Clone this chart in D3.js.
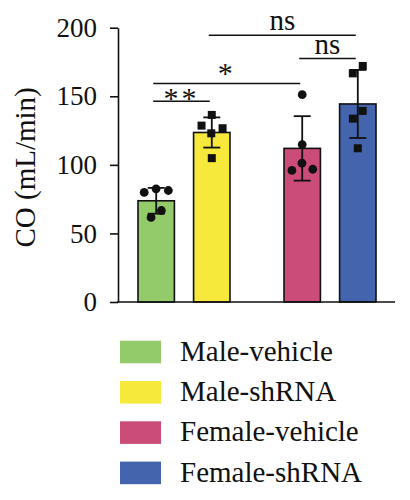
<!DOCTYPE html>
<html>
<head>
<meta charset="utf-8">
<script src="https://cdn.jsdelivr.net/npm/d3@7"></script>
<style>
  body { margin: 0; background: #fff; }
  svg { display: block; }
  text { font-family: "Liberation Serif", "Times New Roman", serif; fill: #111; }
</style>
</head>
<body>
<svg id="chart" width="410" height="500"></svg>
<script>
// groups, in the order they are drawn and listed in the legend
const groups = ["Male-vehicle", "Male-shRNA", "Female-vehicle", "Female-shRNA"];
const sexes = ["Male", "Male", "Female", "Female"];
const treatments = ["vehicle", "shRNA", "vehicle", "shRNA"];
const colors = ["#93cb6b", "#f6e93b", "#cc4c79", "#4464ad"];
const markers = ["circle", "square", "circle", "square"];

// bar heights (mean) and error bars (SD), mL/min
const means = [73.8, 123.6, 112.0, 144.4];
const sds = [9.4, 11.0, 23.5, 24.8];

// individual animals
const points = [
	[82.5, 81.3, 79.9, 66.7, 61.7],
	[128.6, 136.4, 126.7, 123.0, 104.9],
	[151.2, 114.8, 101.2, 96.8, 95.9],
	[172.1, 166.7, 139.3, 133.7, 112.1],
];

// significance brackets: group indices, label, height in mL/min
const comparisons = [
	{ a: 0, b: 1, label: "**", level: 146.4 },
	{ a: 0, b: 2, label: "*", level: 159.3 },
	{ a: 2, b: 3, label: "ns", level: 177.5 },
	{ a: 1, b: 3, label: "ns", level: 194.5 },
];

const yTicks = [0, 50, 100, 150, 200];
const yTitle = "CO (mL/min)";

const svg = d3.select("#chart");

const plot = { left: 118, right: 395, top: 27.7, bottom: 302 };

const y = d3.scaleLinear().domain([0, 200]).range([plot.bottom, plot.top]);

// sex groups outside, treatment inside
const xOuter = d3.scaleBand().domain(["Male", "Female"]).range([138, 376]).paddingInner(0.37).paddingOuter(0);
const xInner = d3.scaleBand().domain(["vehicle", "shRNA"]).range([0, xOuter.bandwidth()]).paddingInner(0.345);

const barX = (i) => xOuter(sexes[i]) + xInner(treatments[i]);
const barC = (i) => barX(i) + xInner.bandwidth() / 2;

// bars
svg.append("g")
	.selectAll("rect")
	.data(groups)
	.join("rect")
	.attr("x", (d, i) => barX(i))
	.attr("y", (d, i) => y(means[i]))
	.attr("width", xInner.bandwidth())
	.attr("height", (d, i) => y(0) - y(means[i]))
	.attr("fill", (d, i) => colors[i])
	.attr("stroke", "#111")
	.attr("stroke-width", 1.6);

// error bars
const eb = svg.append("g").attr("stroke", "#111").attr("stroke-width", 1.8);
groups.forEach((g, i) => {
	const cx = barC(i);
	const hi = y(means[i] + sds[i]);
	const lo = y(means[i] - sds[i]);
	eb.append("line").attr("x1", cx).attr("x2", cx).attr("y1", hi).attr("y2", lo);
	eb.append("line").attr("x1", cx - 8.5).attr("x2", cx + 8.5).attr("y1", hi).attr("y2", hi);
	eb.append("line").attr("x1", cx - 8.5).attr("x2", cx + 8.5).attr("y1", lo).attr("y2", lo);
});

// dots, spread sideways like a beeswarm so they don't overlap
const dots = [];
points.forEach((vals, i) => {
	vals.forEach((v) => dots.push({ g: i, v, cx: barC(i), fy: y(v) }));
});
const sim = d3
	.forceSimulation(dots)
	.force("x", d3.forceX((d) => d.cx).strength(0.2))
	.force("collide", d3.forceCollide(6.2))
	.stop();
dots.forEach((d) => { d.x = d.cx; d.y = d.fy; });
// small deterministic nudge so identical x starts can separate
dots.forEach((d, k) => { d.x += (k % 2 ? 0.5 : -0.5); });
for (let t = 0; t < 300; t++) sim.tick();

const dotG = svg.append("g").attr("fill", "#111");
dots.forEach((d) => {
	if (markers[d.g] === "circle") {
		dotG.append("circle").attr("cx", d.x).attr("cy", d.fy).attr("r", 4.4);
	} else {
		dotG.append("rect").attr("x", d.x - 4).attr("y", d.fy - 4).attr("width", 8).attr("height", 8);
	}
});

// axes
const yAxis = d3.axisLeft(y).tickValues(yTicks).tickSize(8).tickSizeOuter(0).tickPadding(13);
const yg = svg.append("g").attr("transform", `translate(${plot.left},0)`).call(yAxis);
yg.select(".domain").attr("stroke", "#111").attr("stroke-width", 1.6);
yg.selectAll(".tick line").attr("stroke", "#111").attr("stroke-width", 1.6);
yg.selectAll(".tick text")
	.attr("font-family", "Liberation Serif, serif")
	.attr("font-size", 27)
	.attr("fill", "#111");

svg.append("line")
	.attr("x1", plot.left - 0.8).attr("x2", plot.right)
	.attr("y1", y(0)).attr("y2", y(0))
	.attr("stroke", "#111").attr("stroke-width", 1.6);

svg.append("text")
	.attr("transform", "translate(35,167.4) rotate(-90)")
	.attr("text-anchor", "middle")
	.attr("font-size", 29)
	.text(yTitle);

// significance brackets
const starShift = { "**": 7, "*": -1 };
const sg = svg.append("g");
comparisons.forEach((c) => {
	const x1 = barC(c.a) - 3;
	const x2 = barC(c.b) - 2;
	const ly = y(c.level);
	sg.append("line").attr("x1", x1).attr("x2", x2).attr("y1", ly).attr("y2", ly)
		.attr("stroke", "#111").attr("stroke-width", 1.6);
	const isStar = c.label.includes("*");
	sg.append("text")
		.attr("x", (x1 + x2) / 2)
		.attr("y", isStar ? ly + starShift[c.label] : ly - 5)
		.attr("text-anchor", "middle")
		.attr("font-size", isStar ? 30 : 29)
		.attr("letter-spacing", isStar ? 3 : 0)
		.text(c.label);
});

// legend
const legend = svg.append("g").attr("transform", "translate(120,340.7)");
groups.forEach((g, i) => {
	const row = legend.append("g").attr("transform", `translate(0,${i * 40.3})`);
	row.append("rect").attr("width", 41).attr("height", 22.6).attr("fill", colors[i]);
	row.append("text").attr("x", 60).attr("y", 20).attr("font-size", 29).text(g);
});
</script>
</body>
</html>
